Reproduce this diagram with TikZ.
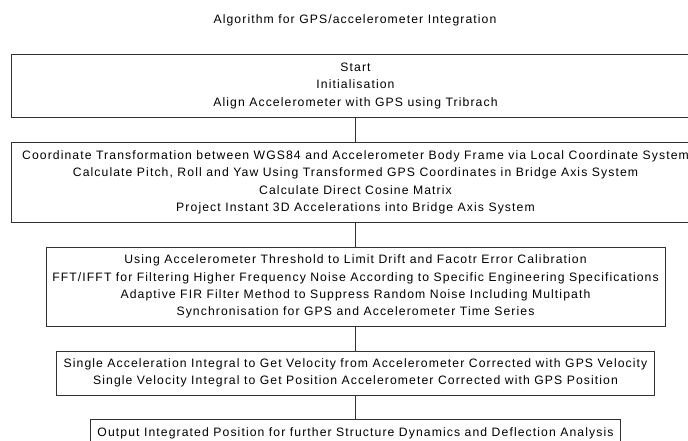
\documentclass[tikz,border=0pt]{standalone}
\usepackage{fontspec}
\setmainfont{Liberation Sans}[LetterSpace=9.0]
\usepackage{tikz}
\usetikzlibrary{positioning}

\begin{document}
\begin{tikzpicture}[x=1bp,y=-1bp,node distance=24bp,
       stage/.style={draw=black!80,line width=0.8bp,align=center,inner sep=0pt,
                     font=\fontsize{12.2bp}{17.3bp}\selectfont}]
       \clip (0,0) rectangle (688,441);
       \node[font=\fontsize{12.2bp}{17.3bp}\selectfont] (title) at (355,20)
             {Algorithm for GPS/accelerometer Integration};
       \node[stage,minimum width=689bp,minimum height=63bp] (init) at (355.5,86)
             {Start\\Initialisation\\Align Accelerometer with GPS using Tribrach};
       \node[stage,minimum width=689bp,minimum height=80bp] (trans) [below=of init]
             {Coordinate Transformation between WGS84 and Accelerometer Body Frame via Local Coordinate System\\
              Calculate Pitch, Roll and Yaw Using Transformed GPS Coordinates in Bridge Axis System\\
              Calculate Direct Cosine Matrix\\
              Project Instant 3D Accelerations into Bridge Axis System};
       \node[stage,minimum width=619bp,minimum height=79bp] (filter) [below=of trans]
             {Using Accelerometer Threshold to Limit Drift and Facotr Error Calibration\\
              FFT/IFFT for Filtering Higher Frequency Noise According to Specific Engineering Specifications\\
              Adaptive FIR Filter Method to Suppress Random Noise Including Multipath\\
              Synchronisation for GPS and Accelerometer Time Series};
       \node[stage,minimum width=598bp,minimum height=44bp] (integ) [below=of filter]
             {Single Acceleration Integral to Get Velocity from Accelerometer Corrected with GPS Velocity\\
              Single Velocity Integral to Get Position Accelerometer Corrected with GPS Position};
       \node[stage,minimum width=530bp,minimum height=28bp] (output) [below=of integ]
             {Output Integrated Position for further Structure Dynamics and Deflection Analysis};
        \path[black!80,line width=0.8bp]
        (init)   edge (trans)
        (trans)  edge (filter)
        (filter) edge (integ)
        (integ)  edge (output);
\end{tikzpicture}
\end{document}
